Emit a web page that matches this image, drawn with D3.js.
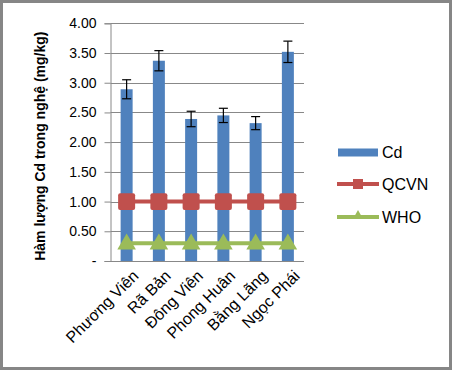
<!DOCTYPE html>
<html><head><meta charset="utf-8">
<script src="https://cdn.jsdelivr.net/npm/d3@7"></script>
<style>body{margin:0;background:#fff}svg{display:block}</style>
</head><body>
<script>
const categories = ["Phương Viên","Rã Bản","Đông Viên","Phong Huân","Bằng Lãng","Ngọc Phái"];
const cdValues = [2.89, 3.37, 2.39, 2.45, 2.32, 3.52];
const cdErrors = [0.16, 0.17, 0.13, 0.12, 0.11, 0.18];
const qcvnValues = [1.0, 1.0, 1.0, 1.0, 1.0, 1.0];
const whoValues = [0.3, 0.3, 0.3, 0.3, 0.3, 0.3];
const yTicks = [0, 0.5, 1, 1.5, 2, 2.5, 3, 3.5, 4];
const seriesNames = ["Cd", "QCVN", "WHO"];

(function(){
const W = 452, H = 370;
const svg = d3.select("body").append("svg").attr("width", W).attr("height", H);
svg.append("rect").attr("x",1.5).attr("y",1.5).attr("width",W-3).attr("height",H-3)
  .attr("fill","#fff").attr("stroke","#868686").attr("stroke-width",3);

const pL = 110.5, pR = 304, pT = 23.3, pB = 261;
const x = d3.scaleBand().domain(categories).range([pL, pR]).paddingInner(0).paddingOuter(0);
const y = d3.scaleLinear().domain([0, 4]).range([pB, pT]);
const font = "'Liberation Sans', Arial, sans-serif";

// gridlines
svg.append("g").selectAll("line").data(yTicks.filter(d=>d>0)).join("line")
  .attr("x1", pL).attr("x2", pR).attr("y1", d=>Math.round(y(d))+0.5).attr("y2", d=>Math.round(y(d))+0.5)
  .attr("stroke", "#888").attr("stroke-width", 1);

// y axis
const yAxis = d3.axisLeft(y).tickValues(yTicks).tickSize(6).tickPadding(8)
  .tickFormat(d => d === 0 ? "-" : d3.format(".2f")(d));
const gy = svg.append("g").attr("transform", `translate(${pL},0)`).call(yAxis);
gy.select(".domain").attr("stroke","#888");
gy.selectAll(".tick line").attr("stroke","#888");
gy.selectAll(".tick text").attr("font-family", font).attr("font-size", 14).attr("fill","#000");

// bars
const bw = 12;
svg.append("g").selectAll("rect").data(cdValues).join("rect")
  .attr("x", (d,i)=>x(categories[i]) + x.bandwidth()/2 - bw/2)
  .attr("width", bw).attr("y", d=>y(d)).attr("height", d=>pB - y(d))
  .attr("fill", "#4F81BD");

// x axis line
svg.append("line").attr("x1", pL).attr("x2", pR).attr("y1", pB+0.5).attr("y2", pB+0.5)
  .attr("stroke","#888");

// error bars
const eg = svg.append("g").attr("stroke","#000").attr("stroke-width",1.2);
cdValues.forEach((v,i)=>{
  const cx = x(categories[i]) + x.bandwidth()/2;
  const y1 = y(v + cdErrors[i]), y2 = y(v - cdErrors[i]);
  eg.append("line").attr("x1",cx).attr("x2",cx).attr("y1",y1).attr("y2",y2);
  eg.append("line").attr("x1",cx-4.5).attr("x2",cx+4.5).attr("y1",y1).attr("y2",y1);
  eg.append("line").attr("x1",cx-4.5).attr("x2",cx+4.5).attr("y1",y2).attr("y2",y2);
});

const cxs = categories.map(c => x(c) + x.bandwidth()/2);
const line = d3.line().x((d,i)=>cxs[i]).y(d=>y(d));

// QCVN
svg.append("path").datum(qcvnValues).attr("d", line).attr("fill","none")
  .attr("stroke","#C0504D").attr("stroke-width",4);
svg.append("g").selectAll("rect").data(qcvnValues).join("rect")
  .attr("x",(d,i)=>cxs[i]-8.5).attr("y",d=>y(d)-8.3).attr("width",17).attr("height",16.6)
  .attr("rx",2).attr("fill","#C0504D");

// WHO
svg.append("path").datum(whoValues).attr("d", line).attr("fill","none")
  .attr("stroke","#9BBB59").attr("stroke-width",4);
const tri = d3.symbol().type(d3.symbolTriangle).size(150);
svg.append("g").selectAll("path").data(whoValues).join("path")
  .attr("d", tri).attr("transform",(d,i)=>`translate(${cxs[i]},${y(d)+1})`)
  .attr("fill","#9BBB59");

// x labels
svg.append("g").selectAll("text").data(categories).join("text")
  .attr("transform",(d,i)=>`translate(${cxs[i]+5},${pB+8}) rotate(-45)`)
  .attr("text-anchor","end").attr("dy","0.7em")
  .attr("font-family", font).attr("font-size", 16).attr("fill","#000").text(d=>d);

// y title
svg.append("text").attr("transform",`translate(45,${(pT+pB)/2+4}) rotate(-90)`)
  .attr("text-anchor","middle").attr("font-family", font).attr("font-size", 14)
  .attr("font-weight","bold").attr("fill","#000").text("Hàm lượng Cd trong nghệ (mg/kg)");

// legend
const lg = svg.append("g");
const ly = [152.5, 184, 217];
lg.append("rect").attr("x",338).attr("y",ly[0]-4).attr("width",40).attr("height",8).attr("fill","#4F81BD");
lg.append("line").attr("x1",337).attr("x2",379).attr("y1",ly[1]).attr("y2",ly[1]).attr("stroke","#C0504D").attr("stroke-width",4);
lg.append("rect").attr("x",353).attr("y",ly[1]-5).attr("width",10).attr("height",10).attr("fill","#C0504D");
lg.append("line").attr("x1",337).attr("x2",379).attr("y1",ly[2]).attr("y2",ly[2]).attr("stroke","#9BBB59").attr("stroke-width",4);
lg.append("path").attr("d", d3.symbol().type(d3.symbolTriangle).size(45)).attr("transform",`translate(358,${ly[2]-1})`).attr("fill","#9BBB59");
lg.selectAll("text").data(seriesNames).join("text")
  .attr("x",382).attr("y",(d,i)=>ly[i]).attr("dy","0.35em")
  .attr("font-family", font).attr("font-size", 16).attr("fill","#000").text(d=>d);
})();
</script>
</body></html>
